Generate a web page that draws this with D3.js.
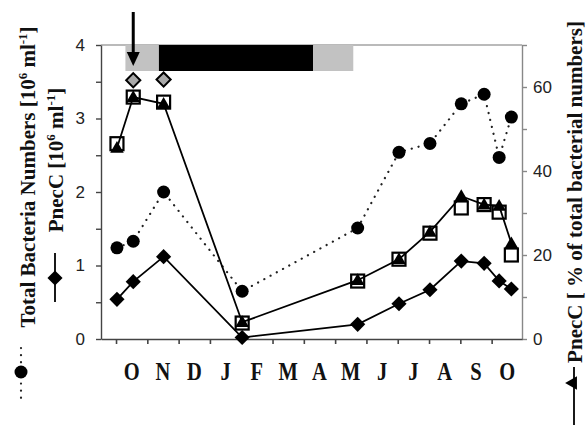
<!DOCTYPE html>
<html>
<head>
<meta charset="utf-8">
<script src="https://cdn.jsdelivr.net/npm/d3@7"></script>
<style>
  body { margin: 0; background: #fff; }
  .tick text { font-family: "Liberation Sans", Arial, sans-serif; font-size: 17px; fill: #222; }
  .title { font-family: "Liberation Serif", "Times New Roman", serif; font-weight: bold; font-size: 21px; fill: #111; }
  .month { font-family: "Liberation Serif", "Times New Roman", serif; font-weight: bold; font-size: 25px; fill: #111; }
</style>
</head>
<body>
<svg id="vis" width="586" height="425"></svg>
<script>
// month labels on the x axis (Oct .. Oct), tick at the start of each month
const monthLabels = ["O", "N", "D", "J", "F", "M", "A", "M", "J", "J", "A", "S", "O"];

// sampling dates, in months since 1 October
const sampleMonths = [0.03, 0.55, 1.52, 4.03, 7.72, 9.04, 10.03, 11.03, 11.76, 12.24, 12.63];

// total bacteria [10^6 ml-1], left axis
const totalBacteria = [1.24, 1.33, 2.0, 0.65, 1.51, 2.54, 2.66, 3.2, 3.33, 2.47, 3.02];
// PnecC [10^6 ml-1], left axis
const pnecC = [0.54, 0.78, 1.12, 0.02, 0.2, 0.48, 0.67, 1.06, 1.03, 0.79, 0.68];
// PnecC [% of total], right axis (triangles, joined)
const pnecCPercent = [45.5, 57.6, 56, 4, 14, 19, 25.5, 34, 32, 31.7, 22.8];
// second estimate of PnecC [% of total], right axis (open squares)
const pnecCPercentAlt = [46.5, 57.6, 56.4, 3.8, 13.8, 19, 25.2, 31.2, 32, 30.2, 20];

// grey diamonds (left axis)
const extraMonths = [0.55, 1.52];
const extraValues = [3.52, 3.53];

// periods drawn as the bar along the top
const periodStart = [0.3, 1.37, 6.3];
const periodEnd = [1.37, 6.3, 7.58];
const periodKind = ["partial", "full", "partial"];

// arrow marks this sample
const arrowMonth = 0.55;

const leftTicks = [0, 0.5, 1, 1.5, 2, 2.5, 3, 3.5, 4];
const rightTicks = [0, 10, 20, 30, 40, 50, 60, 70];
const monthTicks = d3.range(0, 13);

const svg = d3.select("svg#vis");
const plot = { left: 101, right: 522, top: 45, bottom: 339 };

const x = d3.scaleLinear().domain([-0.48, 12.97]).range([plot.left, plot.right]);
const yLeft = d3.scaleLinear().domain([0, 4]).range([plot.bottom, plot.top]);
const yRight = d3.scaleLinear().domain([0, 70]).range([plot.bottom, plot.top]);

const kindColor = { partial: "#c2c2c2", full: "#000" };

// top bar
svg.append("line")
  .attr("x1", plot.left).attr("x2", plot.right)
  .attr("y1", plot.top).attr("y2", plot.top)
  .attr("stroke", "#777").attr("stroke-width", 1.2);

svg.append("g").selectAll("rect")
  .data(periodStart.map((s, i) => ({ s: s, e: periodEnd[i], k: periodKind[i] })))
  .enter()
  .append("rect")
  .attr("x", d => x(d.s))
  .attr("width", d => x(d.e) - x(d.s))
  .attr("y", plot.top)
  .attr("height", 26)
  .attr("fill", d => kindColor[d.k]);

// axes
const axisLeft = d3.axisLeft(yLeft).tickValues(leftTicks).tickSize(5).tickSizeOuter(0)
  .tickPadding(11).tickFormat(d => Number.isInteger(d) ? d : "");
const axisRight = d3.axisRight(yRight).tickValues(rightTicks).tickSize(5).tickSizeOuter(0)
  .tickPadding(6).tickFormat(d => d % 20 === 0 && d < 70 ? d : "");
const axisBottom = d3.axisBottom(x).tickValues(monthTicks).tickSize(5).tickSizeOuter(0)
  .tickFormat("");

const gl = svg.append("g").attr("transform", `translate(${plot.left},0)`).call(axisLeft);
const gr = svg.append("g").attr("transform", `translate(${plot.right},0)`).call(axisRight);
const gb = svg.append("g").attr("transform", `translate(0,${plot.bottom})`).call(axisBottom);
gl.selectAll("path, line").attr("stroke", "#444").attr("stroke-width", 1.4);
gr.selectAll("path, line").attr("stroke", "#888").attr("stroke-width", 1.4);
gb.selectAll("path, line").attr("stroke", "#444").attr("stroke-width", 1.6);
gl.selectAll("text").attr("fill", "#222");

// month letters are tall and narrow in the original
svg.append("g").selectAll("text.month")
  .data(monthLabels)
  .enter()
  .append("text")
  .attr("class", "month")
  .attr("transform", (d, i) => `translate(${x(i + 0.5)},380) scale(0.82,1)`)
  .attr("text-anchor", "middle")
  .text(d => d);

// lines
const lineLeft = d3.line().x((d, i) => x(sampleMonths[i])).y(d => yLeft(d));
const lineRight = d3.line().x((d, i) => x(sampleMonths[i])).y(d => yRight(d));

svg.append("path").datum(totalBacteria)
  .attr("d", lineLeft)
  .attr("fill", "none").attr("stroke", "#222")
  .attr("stroke-width", 2.2).attr("stroke-linecap", "round")
  .attr("stroke-dasharray", "0.1,7");

svg.append("path").datum(pnecC)
  .attr("d", lineLeft)
  .attr("fill", "none").attr("stroke", "#000").attr("stroke-width", 1.8);

svg.append("path").datum(pnecCPercent)
  .attr("d", lineRight)
  .attr("fill", "none").attr("stroke", "#000").attr("stroke-width", 1.8);

// markers
const diamond = d3.symbol().type(d3.symbolSquare).size(115);
const triangle = d3.symbol().type(d3.symbolTriangle).size(80);

svg.append("g").selectAll("circle")
  .data(totalBacteria)
  .enter()
  .append("circle")
  .attr("cx", (d, i) => x(sampleMonths[i]))
  .attr("cy", d => yLeft(d))
  .attr("r", 6.5)
  .attr("fill", "#000");

svg.append("g").selectAll("path")
  .data(pnecC)
  .enter()
  .append("path")
  .attr("d", diamond)
  .attr("transform", (d, i) => `translate(${x(sampleMonths[i])},${yLeft(d)}) rotate(45)`)
  .attr("fill", "#000");

svg.append("g").selectAll("path")
  .data(pnecCPercent)
  .enter()
  .append("path")
  .attr("d", triangle)
  .attr("transform", (d, i) => `translate(${x(sampleMonths[i])},${yRight(d) + 1})`)
  .attr("fill", "#000");

svg.append("g").selectAll("rect")
  .data(pnecCPercentAlt)
  .enter()
  .append("rect")
  .attr("x", (d, i) => x(sampleMonths[i]) - 6.5)
  .attr("y", d => yRight(d) - 6.5)
  .attr("width", 13).attr("height", 13)
  .attr("fill", "none").attr("stroke", "#000").attr("stroke-width", 2.2);

svg.append("g").selectAll("path")
  .data(extraValues)
  .enter()
  .append("path")
  .attr("d", d3.symbol().type(d3.symbolSquare).size(100))
  .attr("transform", (d, i) => `translate(${x(extraMonths[i])},${yLeft(d)}) rotate(45)`)
  .attr("fill", "#a9a9a9").attr("stroke", "#000").attr("stroke-width", 2);

// arrow
const ax = x(arrowMonth);
svg.append("line")
  .attr("x1", ax).attr("x2", ax).attr("y1", 12).attr("y2", 56)
  .attr("stroke", "#000").attr("stroke-width", 3);
svg.append("path")
  .attr("d", `M${ax - 6.5},52 L${ax + 6.5},52 L${ax},66 Z`)
  .attr("fill", "#000");

// axis titles with rotated legend keys
function title(g, baseX, midY, parts) {
  const t = g.append("text")
    .attr("class", "title")
    .attr("transform", `translate(${baseX},${midY}) rotate(-90)`)
    .attr("text-anchor", "middle");
  parts.forEach(p => {
    const s = t.append("tspan").text(p.text);
    if (p.sup) s.attr("font-size", "13px").attr("dy", p.dy);
    else if (p.dy) s.attr("dy", p.dy);
  });
  return t;
}

const titles = svg.append("g");
title(titles, 35, 177, [
  { text: "Total Bacteria Numbers [10" },
  { text: "6", sup: true, dy: -8 },
  { text: " ml", dy: 8 },
  { text: "-1", sup: true, dy: -8 },
  { text: "]", dy: 8 }
]);
title(titles, 63, 160, [
  { text: "PnecC [10" },
  { text: "6", sup: true, dy: -8 },
  { text: " ml", dy: 8 },
  { text: "-1", sup: true, dy: -8 },
  { text: "]", dy: 8 }
]);
title(titles, 582, 192, [
  { text: "PnecC [ % of total bacterial numbers]" }
]);

// legend keys
const keys = svg.append("g");
keys.append("line")
  .attr("x1", 21).attr("x2", 21).attr("y1", 348).attr("y2", 398)
  .attr("stroke", "#222").attr("stroke-width", 2.2)
  .attr("stroke-linecap", "round").attr("stroke-dasharray", "0.1,7");
keys.append("circle").attr("cx", 21).attr("cy", 372).attr("r", 6.5).attr("fill", "#000");

keys.append("line")
  .attr("x1", 55).attr("x2", 55).attr("y1", 253).attr("y2", 302)
  .attr("stroke", "#000").attr("stroke-width", 1.8);
keys.append("path").attr("d", diamond)
  .attr("transform", "translate(55,278) rotate(45)").attr("fill", "#000");

keys.append("line")
  .attr("x1", 574).attr("x2", 574).attr("y1", 367).attr("y2", 425)
  .attr("stroke", "#000").attr("stroke-width", 1.8);
keys.append("path").attr("d", triangle)
  .attr("transform", "translate(573,383) rotate(-90)").attr("fill", "#000");
</script>
</body>
</html>
